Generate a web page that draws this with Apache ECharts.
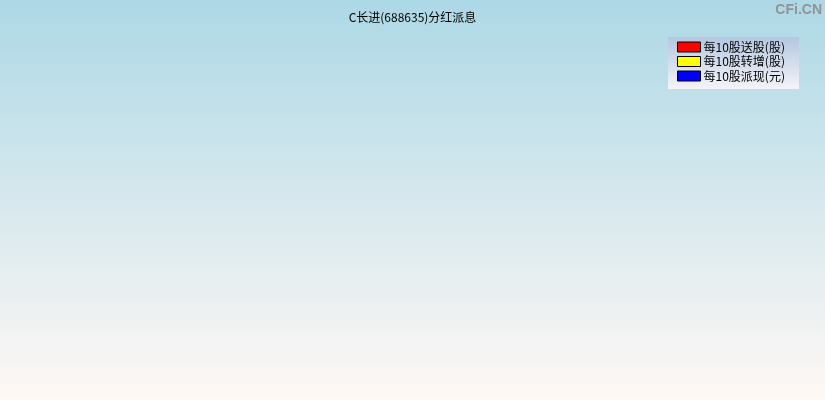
<!DOCTYPE html>
<html>
<head>
<meta charset="utf-8">
<script src="https://cdn.jsdelivr.net/npm/echarts@6/dist/echarts.min.js"></script>
<style>
  html, body { margin: 0; padding: 0; }
  #main { width: 825px; height: 400px; }
</style>
</head>
<body>
<div id="main"></div>
<script>
// no dividend records for this stock, so the series are empty
var titleText = 'C长进(688635)分红派息';
var categories = [];
var seriesNames = ['每10股送股(股)', '每10股转增(股)', '每10股派现(元)'];
var seriesColors = ['#ff0000', '#ffff00', '#0000ff'];
var songGu = [];
var zhuanZeng = [];
var paiXian = [];

var chart = echarts.init(document.getElementById('main'));

var option = {
    animation: false,
    backgroundColor: {
        type: 'linear', x: 0, y: 0, x2: 0, y2: 1,
        colorStops: [
            {offset: 0, color: '#add8e6'},
            {offset: 1, color: '#fff8f5'}
        ]
    },
    title: {
        text: titleText,
        left: 'center',
        top: 6,
        textStyle: {
            color: '#000',
            fontSize: 12,
            fontWeight: 'normal',
            fontFamily: 'Noto Sans CJK SC'
        }
    },
    graphic: [
        {
            type: 'rect',
            shape: {x: 668, y: 37, width: 131, height: 52},
            style: {
                fill: {
                    type: 'linear', x: 0, y: 0, x2: 0, y2: 1,
                    colorStops: [
                        {offset: 0, color: '#b4c6e0'},
                        {offset: 1, color: '#f4f4f8'}
                    ]
                }
            },
            z: 0
        },
        {
            type: 'text',
            right: 3,
            top: 3,
            style: {
                text: 'CFi.CN',
                fill: '#939393',
                fontSize: 14,
                fontWeight: 'bold',
                fontFamily: 'Liberation Sans'
            }
        }
    ],
    legend: {
        orient: 'vertical',
        left: 672,
        top: 36,
        itemWidth: 23,
        itemHeight: 10,
        itemGap: 2.5,
        icon: 'rect',
        data: seriesNames,
        textStyle: {
            color: '#000',
            fontSize: 12,
            fontFamily: 'Noto Sans CJK SC',
            padding: [0, 0, 0, -2]
        },
        itemStyle: {borderColor: '#000', borderWidth: 1},
        z: 5
    },
    grid: {left: 60, right: 30, top: 100, bottom: 40},
    xAxis: {type: 'category', data: categories, show: false},
    yAxis: {type: 'value', show: false},
    series: [
        {name: seriesNames[0], type: 'bar', data: songGu, itemStyle: {color: seriesColors[0]}},
        {name: seriesNames[1], type: 'bar', data: zhuanZeng, itemStyle: {color: seriesColors[1]}},
        {name: seriesNames[2], type: 'bar', data: paiXian, itemStyle: {color: seriesColors[2]}}
    ]
};

chart.setOption(option);
</script>
</body>
</html>
